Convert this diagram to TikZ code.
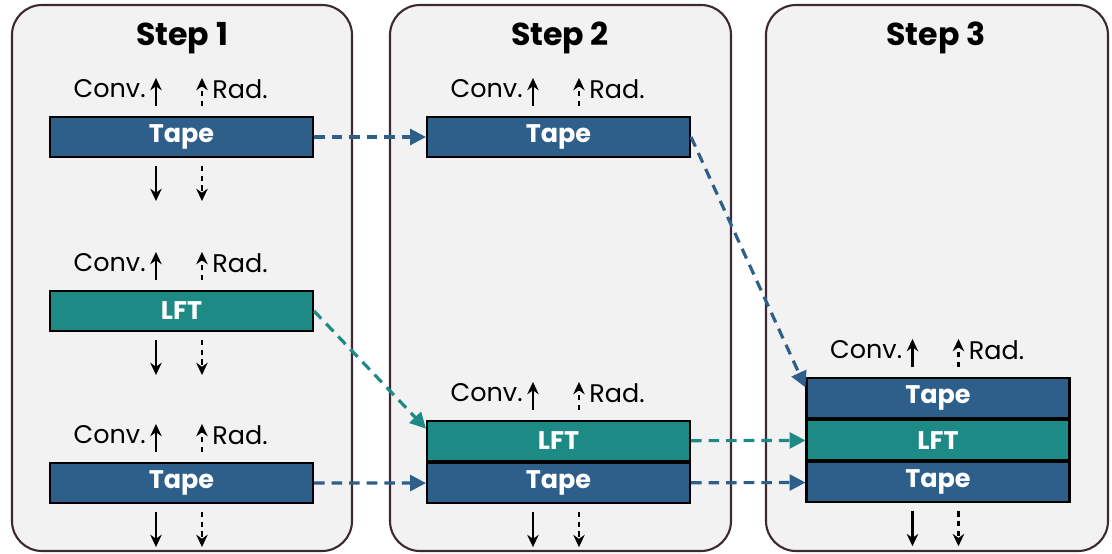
\documentclass[tikz,border=0pt]{standalone}
\usepackage{fontspec}
\setmainfont{Poppins}
\usetikzlibrary{positioning,calc,arrows.meta}
\definecolor{tapeblue}{HTML}{2E5E8A}
\definecolor{lftteal}{HTML}{1E8A86}
\definecolor{panelgray}{HTML}{F2F2F2}
\definecolor{paneledge}{HTML}{3B2A31}

\begin{document}
\begin{tikzpicture}[x=0.02cm,y=-0.02cm,
	panel/.style={draw=paneledge, fill=panelgray, line width=1.2pt, rounded corners=0.6cm},
	layer/.style={draw=black, line width=1.2pt, minimum width=5.26cm, minimum height=0.8cm, inner sep=0pt, text=white, font=\fontsize{14.5}{17}\selectfont\bfseries},
	tape/.style={layer, fill=tapeblue},
	lft/.style={layer, fill=lftteal},
	title/.style={font=\fontsize{18}{21}\selectfont\bfseries},
	lbl/.style={font=\fontsize{14.5}{17}\selectfont, inner sep=0pt},
	flux/.style={-{Stealth[length=7pt,width=6.5pt]}, line width=1.3pt},
	link/.style={dash pattern=on 6pt off 4pt, line width=1.8pt, -{Triangle[length=9pt,width=9pt]}}]
	\useasboundingbox (0,0) rectangle (1112,554);
	% panels
	\draw[panel] (12,5) rectangle (352,551);
	\draw[panel] (390,5) rectangle (731,551);
	\draw[panel] (766,5) rectangle (1108,551);
	\node[title] (s1) at (182,38) {Step 1};
	\node[title] (s2) at (560,38) {Step 2};
	\node[title] (s3) at (936,38) {Step 3};
	% layers
	\node[tape] (t1) at (181.5,137) {Tape};
	\node[lft] (l1) at (181.5,311) {LFT};
	\node[tape] (b1) at (181.5,483) {Tape};
	\node[tape] (t2) at (558.5,137) {Tape};
	\node[lft] (l2) at (558.5,441) {LFT};
	\node[tape] (b2) [below=0pt of l2] {Tape};
	\node[tape] (t3) at (938,398) {Tape};
	\node[lft] (l3) [below=0pt of t3] {LFT};
	\node[tape] (b3) [below=0pt of l3] {Tape};
	% heat fluxes
	\foreach \n in {t1,l1,b1,t2,l2,t3}{
		\coordinate (\n-cu) at ($(\n.north west)+(107,-10)$);
		\coordinate (\n-ru) at ($(\n.north west)+(153,-10)$);
		\draw[flux] (\n-cu) -- ++(0,-28);
		\draw[flux, dash pattern=on 3pt off 2.5pt] (\n-ru) -- ++(0,-28);
		\node[lbl, anchor=east] (\n-cl) at ($(\n-cu)+(-10,-17)$) {Conv.};
		\node[lbl, anchor=west] (\n-rl) at ($(\n-ru)+(10,-17)$) {Rad.};
	}
	\foreach \n in {t1,l1,b1,b2,b3}{
		\coordinate (\n-cd) at ($(\n.south west)+(107,8)$);
		\coordinate (\n-rd) at ($(\n.south west)+(153,8)$);
		\draw[flux] (\n-cd) -- ++(0,35);
		\draw[flux, dash pattern=on 3pt off 2.5pt] (\n-rd) -- ++(0,35);
	}
	% transfers
	\draw[link, draw=tapeblue] (t1) -- (t2);
	\draw[link, draw=lftteal] (l1.east) -- ([yshift=7pt]l2.west);
	\draw[link, draw=tapeblue] (b1) -- (b2);
	\draw[link, draw=tapeblue] (t2.east) -- ([yshift=6pt]t3.west);
	\draw[link, draw=lftteal] (l2) -- (l3);
	\draw[link, draw=tapeblue] (b2) -- (b3);
\end{tikzpicture}
\end{document}
